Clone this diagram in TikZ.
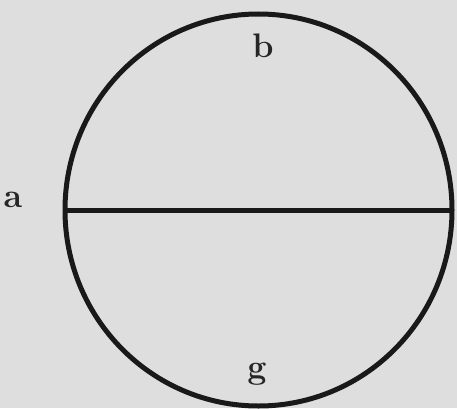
\documentclass[tikz,border=0pt]{standalone}
\begin{document}
\begin{tikzpicture}[x=1pt,y=1pt,
  ink/.style={draw=black!90,line width=5pt},
  lbl/.style={font=\fontsize{34}{34}\selectfont\bfseries,text=black!85,inner sep=0pt}]
\fill[black!13] (0,0) rectangle (457,408);
\useasboundingbox (0,0) rectangle (457,408);
\coordinate (c) at (258.5,198);
\draw[ink] (c) ellipse [x radius=193.5, y radius=196];
\coordinate (L) at (65,197.5);
\coordinate (R) at (452,197.5);
\draw[ink] (L) -- (R);
\node[lbl] (a) at (13,208) {a};
\node[lbl] (b) at (263,362) {b};
\node[lbl] (g) at (257,34) {g};
\end{tikzpicture}
\end{document}
